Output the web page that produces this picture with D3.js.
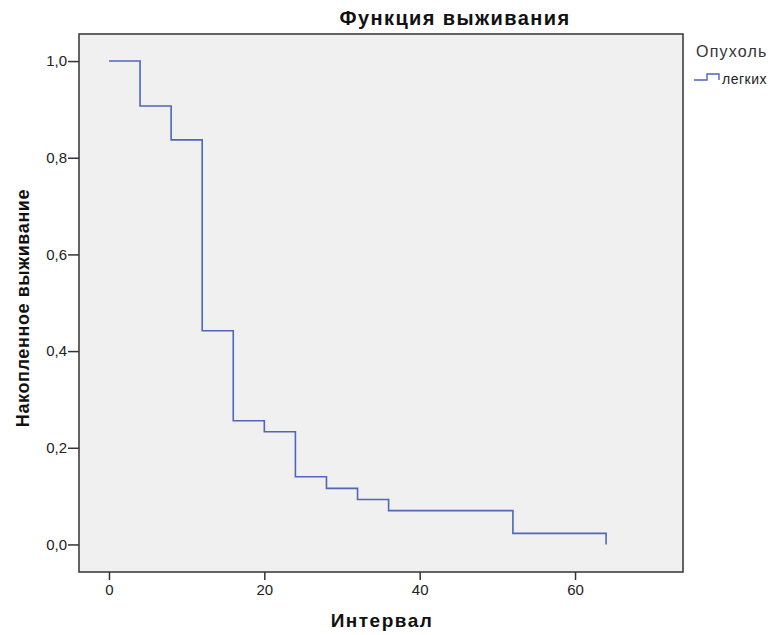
<!DOCTYPE html>
<html>
<head>
<meta charset="utf-8">
<script src="https://cdn.jsdelivr.net/npm/d3@7"></script>
<style>
  body { margin: 0; background: #ffffff; }
  text { font-family: "Liberation Sans", Arial, sans-serif; }
</style>
</head>
<body>
<div id="chart"></div>
<script>
// Survival function (Kaplan-Meier) values
const times = [0, 4, 8, 12, 16, 20, 24, 28, 32, 36, 52, 64];
const survival = [1.0, 0.907, 0.837, 0.442, 0.256, 0.233, 0.140, 0.116, 0.093, 0.070, 0.023, 0.0];
const xTicks = [0, 20, 40, 60];
const yTicks = [0, 0.2, 0.4, 0.6, 0.8, 1.0];

const width = 772;
const height = 635;
const margin = { top: 34, right: 89, bottom: 63, left: 79 };
const lineColor = "#4f66b9";

const svg = d3.select("#chart")
    .append("svg")
    .attr("width", width)
    .attr("height", height);

const innerW = width - margin.left - margin.right;
const innerH = height - margin.top - margin.bottom;

const x = d3.scaleLinear()
    .domain([-3.86, 73.9])
    .range([margin.left, margin.left + innerW]);

const y = d3.scaleLinear()
    .domain([-0.057, 1.056])
    .range([margin.top + innerH, margin.top]);

// plot background
svg.append("rect")
    .attr("x", margin.left)
    .attr("y", margin.top)
    .attr("width", innerW)
    .attr("height", innerH)
    .attr("fill", "#f0f0f0");

// step line
const pts = [];
times.forEach((t, i) => {
    if (i > 0) pts.push([t, survival[i - 1]]);
    pts.push([t, survival[i]]);
});
const line = d3.line()
    .x(d => x(d[0]))
    .y(d => y(d[1]));

svg.append("path")
    .datum(pts)
    .attr("fill", "none")
    .attr("stroke", lineColor)
    .attr("stroke-width", 1.6)
    .attr("d", line);

// frame
svg.append("rect")
    .attr("x", margin.left)
    .attr("y", margin.top)
    .attr("width", innerW)
    .attr("height", innerH)
    .attr("fill", "none")
    .attr("stroke", "#333333")
    .attr("stroke-width", 1.5);

// axes
const xAxis = svg.append("g")
    .attr("transform", `translate(0, ${margin.top + innerH})`)
    .call(d3.axisBottom(x).tickValues(xTicks).tickSize(8).tickSizeOuter(0).tickPadding(4));
const yAxis = svg.append("g")
    .attr("transform", `translate(${margin.left}, 0)`)
    .call(d3.axisLeft(y).tickValues(yTicks).tickSize(11).tickSizeOuter(0).tickPadding(1)
        .tickFormat(d => d3.format(".1f")(d).replace(".", ",")));

[xAxis, yAxis].forEach(a => {
    a.select(".domain").remove();
    a.selectAll("line").attr("stroke", "#333333").attr("stroke-width", 1.5);
    a.selectAll("text")
        .attr("fill", "#222222")
        .style("font-size", "15px")
        .style("font-family", "'Liberation Sans', Arial, sans-serif");
});

// title
svg.append("text")
    .attr("x", 455)
    .attr("y", 25)
    .attr("text-anchor", "middle")
    .style("font-size", "20px")
    .style("font-weight", "bold")
    .style("letter-spacing", "1.4px")
    .attr("fill", "#111111")
    .text("Функция выживания");

// x axis label
svg.append("text")
    .attr("x", 382)
    .attr("y", 627)
    .attr("text-anchor", "middle")
    .style("font-size", "19px")
    .style("font-weight", "bold")
    .style("letter-spacing", "1.5px")
    .attr("fill", "#111111")
    .text("Интервал");

// y axis label
svg.append("text")
    .attr("transform", `translate(29, 308) rotate(-90)`)
    .attr("text-anchor", "middle")
    .style("font-size", "18px")
    .style("font-weight", "bold")
    .style("letter-spacing", "0.6px")
    .attr("fill", "#111111")
    .text("Накопленное выживание");

// legend
const legend = svg.append("g");
legend.append("text")
    .attr("x", 696)
    .attr("y", 57)
    .style("font-size", "16px")
    .style("letter-spacing", "1.2px")
    .attr("fill", "#333333")
    .text("Опухоль");
legend.append("path")
    .attr("d", "M694,80 H707 V74 H719 V80")
    .attr("fill", "none")
    .attr("stroke", lineColor)
    .attr("stroke-width", 1.4);
legend.append("text")
    .attr("x", 722)
    .attr("y", 84)
    .style("font-size", "14px")
    .style("letter-spacing", "0.5px")
    .attr("fill", "#222222")
    .text("легких");
</script>
</body>
</html>
